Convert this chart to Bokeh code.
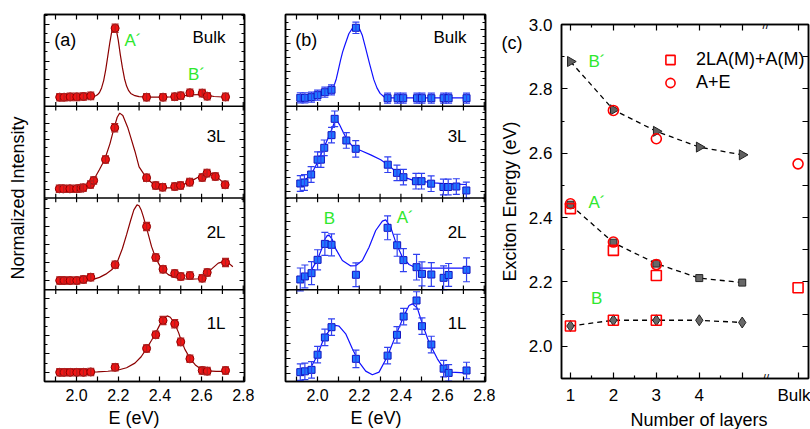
import numpy as np
from bokeh.plotting import figure
from bokeh.models import (ColumnDataSource, Whisker, TeeHead, FixedTicker, LinearAxis, Title,
                          Range1d, Span, Label, Legend, LegendItem, NumeralTickFormatter)
from bokeh.core.properties import value
from bokeh.layouts import row
from bokeh.embed import file_html
from bokeh.resources import INLINE

FONT = "Liberation Sans"
GREEN = "#2ee82e"

# ---------------- panel (a): red spectra (normalized, per-sub-panel units) ----------------
a_bulk_E = [1.919, 1.940, 1.969, 2.001, 2.033, 2.068, 2.185, 2.336, 2.415, 2.471, 2.500, 2.544, 2.603, 2.627, 2.715]
a_bulk_I = [0.099, 0.099, 0.102, 0.102, 0.106, 0.113, 0.851, 0.099, 0.099, 0.104, 0.115, 0.146, 0.143, 0.110, 0.102]
a_bulk_err = [0.04, 0.04, 0.04, 0.04, 0.04, 0.04, 0.045, 0.04, 0.04, 0.04, 0.04, 0.04, 0.04, 0.04, 0.04]
a_bulk_fitE = [1.91, 1.95, 2.00, 2.04, 2.07, 2.09, 2.10, 2.11, 2.12, 2.13, 2.14, 2.15, 2.16, 2.17, 2.18, 2.19, 2.20, 2.21,
               2.22, 2.23, 2.24, 2.25, 2.26, 2.28, 2.30, 2.35, 2.40, 2.45, 2.50, 2.55, 2.60, 2.63, 2.66, 2.70, 2.72]
a_bulk_fitI = [0.100, 0.100, 0.100, 0.101, 0.103, 0.112, 0.125, 0.150, 0.200, 0.280, 0.400, 0.550, 0.700, 0.830, 0.880,
               0.840, 0.720, 0.560, 0.420, 0.300, 0.220, 0.170, 0.140, 0.115, 0.105, 0.100, 0.100, 0.102, 0.110, 0.125,
               0.128, 0.118, 0.106, 0.101, 0.100]

a_3L_E = [1.917, 1.938, 1.968, 2.000, 2.020, 2.032, 2.067, 2.082, 2.139, 2.183, 2.336, 2.380, 2.413, 2.471, 2.499,
          2.543, 2.603, 2.626, 2.666, 2.713]
a_3L_I = [0.100, 0.100, 0.100, 0.100, 0.107, 0.111, 0.147, 0.191, 0.420, 0.765, 0.220, 0.136, 0.118, 0.125, 0.136,
          0.173, 0.223, 0.271, 0.234, 0.144]
a_3L_err = [0.04, 0.04, 0.04, 0.04, 0.04, 0.04, 0.04, 0.04, 0.04, 0.045, 0.04, 0.04, 0.04, 0.04, 0.04,
            0.04, 0.04, 0.04, 0.04, 0.04]
a_3L_fitE = [1.91, 1.98, 2.03, 2.06, 2.085, 2.11, 2.135, 2.16, 2.18, 2.195, 2.207, 2.222, 2.245, 2.26, 2.28, 2.30,
             2.335, 2.375, 2.415, 2.455, 2.495, 2.54, 2.59, 2.63, 2.665, 2.71]
a_3L_fitI = [0.100, 0.100, 0.118, 0.150, 0.210, 0.310, 0.420, 0.590, 0.765, 0.880, 0.925, 0.900, 0.772, 0.660, 0.510,
             0.340, 0.220, 0.136, 0.111, 0.111, 0.129, 0.173, 0.234, 0.280, 0.249, 0.154]

a_2L_E = [1.919, 1.940, 1.969, 2.001, 2.033, 2.068, 2.185, 2.336, 2.380, 2.415, 2.471, 2.500, 2.544, 2.603, 2.627, 2.715]
a_2L_I = [0.100, 0.100, 0.100, 0.100, 0.112, 0.137, 0.272, 0.689, 0.352, 0.224, 0.177, 0.144, 0.155, 0.126, 0.188, 0.297]
a_2L_err = [0.04, 0.04, 0.04, 0.04, 0.04, 0.04, 0.04, 0.045, 0.04, 0.04, 0.04, 0.04, 0.04, 0.04, 0.04, 0.045]
a_2L_fitE = [1.91, 2.00, 2.05, 2.08, 2.11, 2.14, 2.17, 2.185, 2.20, 2.22, 2.24, 2.26, 2.275, 2.29, 2.30, 2.31, 2.32,
             2.34, 2.36, 2.38, 2.40, 2.415, 2.44, 2.47, 2.50, 2.55, 2.59, 2.62, 2.65, 2.68, 2.71, 2.73, 2.75]
a_2L_fitI = [0.100, 0.100, 0.105, 0.113, 0.135, 0.170, 0.220, 0.265, 0.330, 0.450, 0.600, 0.760, 0.870, 0.925, 0.915,
             0.870, 0.800, 0.640, 0.470, 0.345, 0.260, 0.220, 0.165, 0.135, 0.120, 0.115, 0.120, 0.160, 0.230, 0.290,
             0.310, 0.290, 0.250]

a_1L_E = [1.919, 1.940, 1.969, 2.001, 2.033, 2.068, 2.185, 2.336, 2.380, 2.415, 2.471, 2.500, 2.544, 2.603, 2.627, 2.715]
a_1L_I = [0.100, 0.100, 0.100, 0.100, 0.100, 0.104, 0.155, 0.360, 0.509, 0.665, 0.629, 0.432, 0.247, 0.120, 0.113, 0.120]
a_1L_err = [0.04, 0.04, 0.04, 0.04, 0.04, 0.04, 0.04, 0.04, 0.04, 0.045, 0.045, 0.04, 0.04, 0.04, 0.04, 0.04]
a_1L_fitE = [1.91, 2.00, 2.10, 2.15, 2.20, 2.24, 2.28, 2.31, 2.335, 2.36, 2.38, 2.40, 2.42, 2.435, 2.45, 2.47, 2.49,
             2.50, 2.52, 2.545, 2.57, 2.60, 2.63, 2.67, 2.71]
a_1L_fitI = [0.100, 0.100, 0.105, 0.112, 0.125, 0.150, 0.200, 0.270, 0.355, 0.450, 0.530, 0.620, 0.690, 0.715, 0.700,
             0.635, 0.530, 0.460, 0.350, 0.250, 0.180, 0.130, 0.115, 0.110, 0.110]

# ---------------- panel (b): blue spectra ----------------
b_bulk_E = [1.917, 1.939, 1.971, 2.000, 2.035, 2.067, 2.184, 2.336, 2.384, 2.411, 2.477, 2.501, 2.546, 2.605, 2.629, 2.715]
b_bulk_I = [0.092, 0.092, 0.099, 0.121, 0.153, 0.179, 0.855, 0.088, 0.088, 0.088, 0.088, 0.088, 0.088, 0.088, 0.088, 0.088]
b_bulk_err = [0.055, 0.055, 0.055, 0.055, 0.055, 0.055, 0.062, 0.055, 0.055, 0.055, 0.055, 0.055, 0.055, 0.055, 0.055, 0.055]
b_bulk_fitE = [1.91, 1.95, 2.00, 2.04, 2.07, 2.08, 2.09, 2.10, 2.11, 2.12, 2.13, 2.15, 2.17, 2.185, 2.20, 2.215, 2.23,
               2.25, 2.27, 2.285, 2.30, 2.32, 2.34, 2.72]
b_bulk_fitI = [0.095, 0.100, 0.115, 0.140, 0.180, 0.230, 0.300, 0.400, 0.500, 0.590, 0.660, 0.790, 0.860, 0.880, 0.850,
               0.770, 0.640, 0.460, 0.290, 0.200, 0.140, 0.100, 0.092, 0.092]

b_3L_E = [1.917, 1.937, 1.969, 2.000, 2.016, 2.032, 2.067, 2.082, 2.138, 2.183, 2.337, 2.381, 2.412, 2.472, 2.499,
          2.545, 2.604, 2.627, 2.666, 2.714]
b_3L_I = [0.158, 0.169, 0.256, 0.418, 0.418, 0.547, 0.685, 0.863, 0.627, 0.536, 0.363, 0.274, 0.227, 0.183, 0.183,
          0.156, 0.120, 0.120, 0.125, 0.082]
b_3L_err = [0.085, 0.085, 0.085, 0.085, 0.085, 0.085, 0.085, 0.085, 0.085, 0.09, 0.085, 0.085, 0.085, 0.085, 0.085,
            0.085, 0.085, 0.085, 0.085, 0.09]
b_3L_fitE = [1.916, 1.967, 2.000, 2.031, 2.063, 2.080, 2.092, 2.105, 2.119, 2.143, 2.175, 2.207, 2.255, 2.303, 2.338,
             2.375, 2.415, 2.463, 2.511, 2.559, 2.623, 2.714]
b_3L_fitI = [0.161, 0.245, 0.390, 0.553, 0.717, 0.820, 0.850, 0.800, 0.736, 0.627, 0.547, 0.517, 0.470, 0.416, 0.361,
             0.288, 0.227, 0.190, 0.179, 0.165, 0.154, 0.147]

b_2L_E = [1.917, 1.939, 1.971, 2.000, 2.035, 2.067, 2.184, 2.336, 2.382, 2.412, 2.475, 2.501, 2.546, 2.605, 2.629, 2.715]
b_2L_I = [0.112, 0.145, 0.181, 0.326, 0.500, 0.490, 0.163, 0.675, 0.485, 0.323, 0.246, 0.173, 0.166, 0.130, 0.161, 0.217]
b_2L_err = [0.125, 0.125, 0.125, 0.11, 0.125, 0.12, 0.13, 0.13, 0.12, 0.125, 0.14, 0.13, 0.13, 0.13, 0.125, 0.13]
b_2L_fitE = [1.916, 1.943, 1.967, 1.999, 2.023, 2.035, 2.047, 2.057, 2.070, 2.087, 2.119, 2.159, 2.183, 2.215, 2.247,
             2.279, 2.311, 2.327, 2.351, 2.375, 2.407, 2.439, 2.471, 2.511, 2.714]
b_2L_fitI = [0.137, 0.155, 0.203, 0.326, 0.464, 0.550, 0.592, 0.590, 0.550, 0.446, 0.319, 0.260, 0.262, 0.319, 0.464,
             0.646, 0.748, 0.762, 0.682, 0.519, 0.355, 0.275, 0.239, 0.235, 0.235]

b_1L_E = [1.917, 1.939, 1.971, 2.000, 2.035, 2.067, 2.184, 2.336, 2.381, 2.413, 2.475, 2.501, 2.546, 2.605, 2.629, 2.715]
b_1L_I = [0.102, 0.111, 0.127, 0.292, 0.480, 0.592, 0.247, 0.282, 0.509, 0.708, 0.883, 0.603, 0.403, 0.140, 0.094, 0.120]
b_1L_err = [0.09, 0.09, 0.09, 0.09, 0.09, 0.09, 0.095, 0.09, 0.09, 0.09, 0.095, 0.09, 0.09, 0.09, 0.09, 0.09]
b_1L_fitE = [1.911, 1.943, 1.967, 1.999, 2.031, 2.071, 2.090, 2.103, 2.135, 2.167, 2.199, 2.231, 2.263, 2.295, 2.335,
             2.375, 2.415, 2.439, 2.455, 2.479, 2.503, 2.535, 2.575, 2.607, 2.639, 2.711]
b_1L_fitI = [0.102, 0.127, 0.149, 0.283, 0.476, 0.600, 0.610, 0.603, 0.520, 0.356, 0.211, 0.113, 0.073, 0.102, 0.273,
             0.500, 0.720, 0.828, 0.846, 0.800, 0.625, 0.425, 0.247, 0.138, 0.102, 0.094]

stack_names = ["1L", "2L", "3L", "Bulk"]
e_major = [2.0, 2.2, 2.4, 2.6, 2.8]
e_minor = [1.9, 2.1, 2.3, 2.5, 2.7]

# ---------------- panel (c): exciton energies ----------------
layers = [1, 2, 3, 4, 5]
bulk_pos = 6.3
break_pos = 5.55
layer_tick_labels = {1: "1", 2: "2", 3: "3", 4: "4", 5: "", 6.3: "Bulk"}
Bp_energy = [2.885, 2.735, 2.668, 2.619, 2.595]
Ap_energy = [2.440, 2.322, 2.257, 2.212, 2.198]
B_energy = [2.063, 2.081, 2.081, 2.081, 2.074]
sq_x = [1, 1, 2, 2, 3, 3, 6.3]
sq_energy = [2.428, 2.063, 2.298, 2.081, 2.220, 2.081, 2.182]
circ_x = [1, 2, 2, 3, 3, 6.3]
circ_energy = [2.443, 2.733, 2.324, 2.645, 2.254, 2.567]


def style_axis(ax, size="16px"):
    ax.axis_line_color = "black"
    ax.axis_line_width = 1.5
    ax.major_tick_line_color = "black"
    ax.minor_tick_line_color = "black"
    ax.major_tick_line_width = 1.2
    ax.minor_tick_line_width = 1.2
    ax.major_tick_out = 0
    ax.minor_tick_out = 0
    ax.major_label_text_font = FONT
    ax.major_label_text_font_size = size
    ax.major_label_text_color = "black"
    ax.axis_label_text_font = FONT
    ax.axis_label_text_font_size = "18px"
    ax.axis_label_text_font_style = "normal"
    ax.axis_label_text_color = "black"


def hide_labels(ax):
    ax.major_label_text_font_size = "0px"
    ax.major_label_text_color = None
    ax.major_label_standoff = 0


def anchored_title(p, text, offset, frame_top, text_bottom):
    """Title anchored to the frame's top edge, shifted so its text ends at page row text_bottom."""
    p.add_layout(Title(text=text, align="left", offset=offset, vertical_align="bottom",
                       standoff=-2 * (text_bottom - frame_top), text_font=FONT, text_font_size="18px",
                       text_font_style="normal", text_color="black"), "above")


def text_label(p, x, y, text, size="17px", color="black", align="left"):
    p.add_layout(Label(x=x, y=y, text=text, text_align=align, text_baseline="middle",
                       text_font=FONT, text_font_size=size, text_color=color))


def stacked(spectra, ytick_sets, width, bl, br, mk, fill, edge, ecolor, lcolor, msize, tag, ylabel, xt_offset):
    p = figure(width=width, height=429, x_range=Range1d(1.846, 2.806), y_range=Range1d(0, 4),
               output_backend="svg", toolbar_location=None, title=None, frame_align=False,
               min_border_left=bl, min_border_right=br, min_border_top=14, min_border_bottom=48)
    p.grid.visible = False
    p.outline_line_color = "black"
    p.outline_line_width = 1.5

    ymaj, ymin = [], []
    for k, maj in enumerate(ytick_sets):
        ymaj += [k + t for t in maj]
        step = maj[1] - maj[0]
        ymin += [k + t + step / 2 for t in maj]
    ytick = FixedTicker(ticks=ymaj, minor_ticks=ymin)
    xtick = FixedTicker(ticks=e_major, minor_ticks=e_minor)

    bx = p.below[0]
    bx.ticker = xtick
    style_axis(bx)
    bx.major_tick_in = 5
    bx.minor_tick_in = 5
    bx.major_label_standoff = 7
    bx.formatter = NumeralTickFormatter(format="0.0")
    top = LinearAxis(ticker=xtick)
    style_axis(top)
    hide_labels(top)
    top.major_tick_in = 5
    top.minor_tick_in = 5
    p.add_layout(top, "above")
    anchored_title(p, "E (eV)", xt_offset, 14, 427)

    ly = p.left[0]
    ly.ticker = ytick
    style_axis(ly)
    hide_labels(ly)
    ly.major_tick_in = 5
    ly.minor_tick_in = 3
    if ylabel:
        ly.axis_label = ylabel
        ly.axis_label_standoff = 17
    ry = LinearAxis(ticker=ytick)
    style_axis(ry)
    hide_labels(ry)
    ry.major_tick_in = 5
    ry.minor_tick_in = 3
    p.add_layout(ry, "right")

    # separators between stacked spectra
    sep_x = sorted(e_major + e_minor)
    for k in (1, 2, 3):
        p.add_layout(Span(location=k, dimension="width", line_color="black", line_width=1.5))
        p.segment(x0=sep_x, x1=sep_x, y0=[k - 0.045] * len(sep_x), y1=[k + 0.045] * len(sep_x),
                  line_color="black", line_width=1.2)

    for k, (E, I, err, fE, fI) in enumerate(spectra):
        y = np.array(I) + k
        e = np.array(err)
        src = ColumnDataSource(dict(x=E, y=y, lo=y - e, hi=y + e))
        p.line(np.array(fE), np.array(fI) + k, line_color=lcolor, line_width=1.2)
        wk = Whisker(source=src, base="x", upper="hi", lower="lo", dimension="height",
                     line_color=ecolor, line_width=1.2, level="glyph",
                     upper_head=TeeHead(size=7, line_color=ecolor, line_width=1.2),
                     lower_head=TeeHead(size=7, line_color=ecolor, line_width=1.2))
        p.add_layout(wk)
        p.scatter("x", "y", source=src, marker=mk, size=msize, fill_color=fill, line_color=edge, line_width=1)
        text_label(p, 2.715, k + [0.632, 0.627, 0.674, 0.745][k], stack_names[k], align="right")

    text_label(p, 1.893, 3.72, tag, size="18px")
    return p


a_specs = [(a_1L_E, a_1L_I, a_1L_err, a_1L_fitE, a_1L_fitI),
           (a_2L_E, a_2L_I, a_2L_err, a_2L_fitE, a_2L_fitI),
           (a_3L_E, a_3L_I, a_3L_err, a_3L_fitE, a_3L_fitI),
           (a_bulk_E, a_bulk_I, a_bulk_err, a_bulk_fitE, a_bulk_fitI)]
b_specs = [(b_1L_E, b_1L_I, b_1L_err, b_1L_fitE, b_1L_fitI),
           (b_2L_E, b_2L_I, b_2L_err, b_2L_fitE, b_2L_fitI),
           (b_3L_E, b_3L_I, b_3L_err, b_3L_fitE, b_3L_fitI),
           (b_bulk_E, b_bulk_I, b_bulk_err, b_bulk_fitE, b_bulk_fitI)]

a_yticks = [[0.1, 0.3, 0.5, 0.7, 0.9], [0.1, 0.297, 0.493, 0.689, 0.885],
            [0.093, 0.275, 0.457, 0.637, 0.817], [0.1, 0.297, 0.493, 0.69, 0.887]]
b_yticks = [[0.084, 0.25, 0.418, 0.585, 0.748, 0.912], [0.083, 0.25, 0.415, 0.578, 0.745, 0.907],
            [0.074, 0.227, 0.383, 0.534, 0.69, 0.852], [0.074, 0.227, 0.38, 0.534, 0.687, 0.84]]

pa = stacked(a_specs, a_yticks, 264, 44, 20, "circle", "#f01414", "#8a0000", "#b02020", "#8b0000", 8,
             "(a)", "Normalized Intensity", 64)
pb = stacked(b_specs, b_yticks, 232, 21, 11, "square", "#1f78ff", "#1010c0", "#3040f0", "#1010ff", 7,
             "(b)", None, 65)

# green peak labels
text_label(pa, 2.23, 3.72, "A\u00b4", color=GREEN)
text_label(pa, 2.535, 3.345, "B\u00b4", color=GREEN)
text_label(pb, 2.03, 1.775, "B", color=GREEN)
text_label(pb, 2.38, 1.785, "A\u00b4", color=GREEN)

# ---------------- panel (c) figure ----------------
pc = figure(width=314, height=429, x_range=Range1d(0.792, 6.543), y_range=Range1d(1.9, 3.0),
            output_backend="svg", toolbar_location=None, title=None, frame_align=False,
            min_border_left=63, min_border_right=2, min_border_top=24, min_border_bottom=51)
pc.grid.visible = False
pc.outline_line_color = "black"
pc.outline_line_width = 1.5

cx_tick = FixedTicker(ticks=layers + [bulk_pos], minor_ticks=[1.5, 2.5, 3.5, 4.5])
cy_tick = FixedTicker(ticks=[2.0, 2.2, 2.4, 2.6, 2.8, 3.0], minor_ticks=[1.9, 2.1, 2.3, 2.5, 2.7, 2.9])

cb = pc.below[0]
cb.ticker = cx_tick
style_axis(cb, "17px")
cb.major_tick_in = 6
cb.minor_tick_in = 3
cb.major_label_standoff = 7
cb.major_label_overrides = layer_tick_labels
ct = LinearAxis(ticker=cx_tick)
style_axis(ct)
hide_labels(ct)
ct.major_tick_in = 6
ct.minor_tick_in = 3
pc.add_layout(ct, "above")
anchored_title(pc, "(c)", -60, 24, 52)
anchored_title(pc, "Number of layers", 69, 24, 429)

cl = pc.left[0]
cl.ticker = cy_tick
style_axis(cl, "17px")
cl.major_tick_in = 6
cl.minor_tick_in = 3
cl.major_label_standoff = 9
cl.formatter = NumeralTickFormatter(format="0.0")
cl.axis_label = "Exciton Energy (eV)"
cl.axis_label_standoff = 6
cr = LinearAxis(ticker=cy_tick)
style_axis(cr)
hide_labels(cr)
cr.major_tick_in = 6
cr.minor_tick_in = 6
pc.add_layout(cr, "right")

for yy in (Bp_energy, Ap_energy, B_energy):
    pc.line(layers, yy, line_color="black", line_width=1.3, line_dash="5 4")

pc.scatter(layers, Bp_energy, marker="triangle", angle=-np.pi / 2, size=10,
           fill_color="#606060", line_color="#222222", line_width=1)
pc.scatter(layers, Ap_energy, marker="square", size=7, fill_color="#686868", line_color="#222222", line_width=1)
pc.scatter(layers, B_energy, marker="diamond", size=11, fill_color="#686868", line_color="#222222", line_width=1)
r_sq = pc.scatter(sq_x, sq_energy, marker="square", size=10, fill_color=None, line_color="#ff0000", line_width=1.6)
r_ci = pc.scatter(circ_x, circ_energy, marker="circle", size=10, fill_color=None, line_color="#ff0000", line_width=1.6)

# axis-break marks on the top and bottom frame lines
pc.text(x=[break_pos, break_pos], y=[3.0, 1.9], text=["//", "//"], text_align="center",
        text_baseline="middle", text_font=value(FONT), text_font_size="12px", text_color="black")

leg = Legend(items=[LegendItem(label="2LA(M)+A(M)", renderers=[r_sq]),
                    LegendItem(label="A+E", renderers=[r_ci])],
             location=(92, 279), glyph_width=24, glyph_height=23, spacing=0, padding=5,
             label_standoff=14, margin=0, background_fill_alpha=0, border_line_alpha=0,
             label_text_font=FONT, label_text_font_size="18px", label_text_color="black")
pc.add_layout(leg)

text_label(pc, 1.42, 2.885, "B\u00b4", color=GREEN)
text_label(pc, 1.42, 2.448, "A\u00b4", color=GREEN)
text_label(pc, 1.48, 2.148, "B", color=GREEN)

layout = row(pa, pb, pc, spacing=0)
open("out.html", "w").write(file_html(layout, INLINE))
